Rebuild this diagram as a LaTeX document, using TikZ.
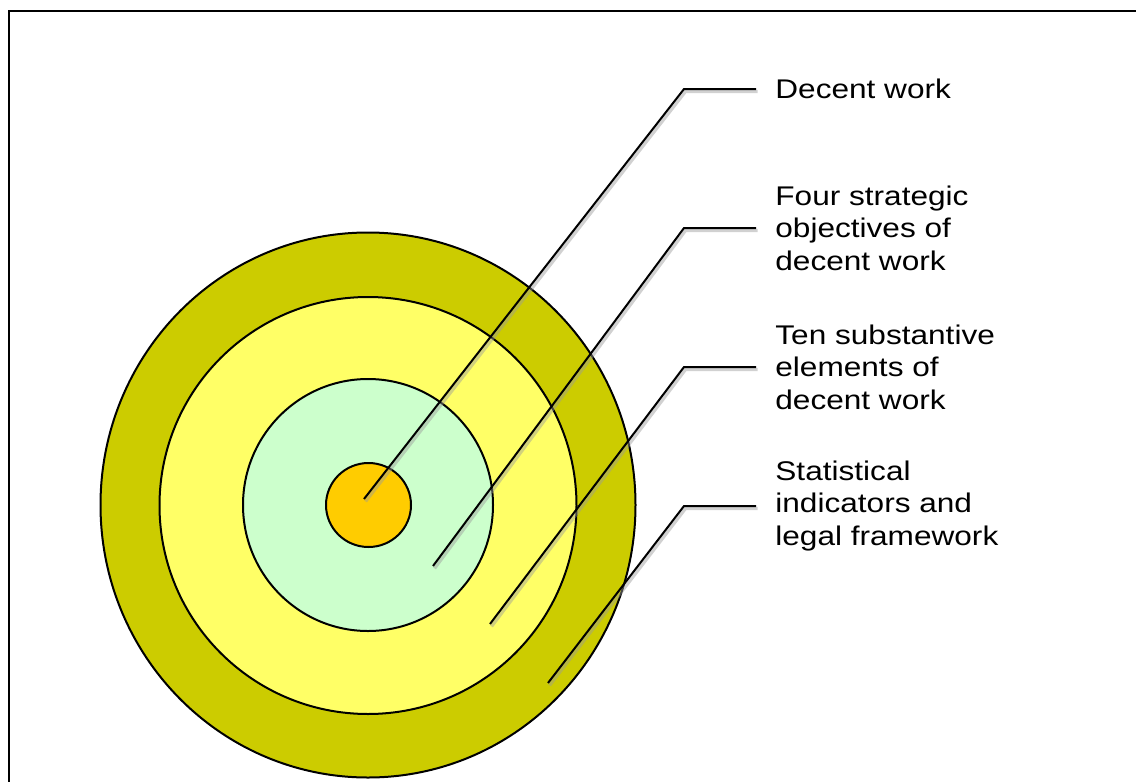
\documentclass[tikz,border=0pt]{standalone}
\usepackage{fontspec}
\newfontfamily\labfont[FakeStretch=1.17]{Liberation Sans}
\usetikzlibrary{shapes.geometric}
\definecolor{ringolive}{HTML}{CCCC00}
\definecolor{ringyellow}{HTML}{FFFF66}
\definecolor{ringgreen}{HTML}{CCFFCC}
\definecolor{ringorange}{HTML}{FFCC00}
\begin{document}
\begin{tikzpicture}[x=0.5pt,y=-0.5pt,
  ring/.style={ellipse, draw=black, line width=1pt, inner sep=0pt},
  lab/.style={font=\labfont\fontsize{13.5pt}{16.3pt}\selectfont, align=left, anchor=west, inner xsep=9.5pt, inner ysep=0pt},
  callout/.style={draw=black, line width=1pt},
  calloutshadow/.style={draw=black!40, line width=1.6pt, opacity=0.45}]
\useasboundingbox (0,0) rectangle (1136,782);
\draw[line width=1pt] (8.5,10.5) rectangle (1150,800);
% rings
\node[ring, fill=ringolive, minimum width=267.5pt, minimum height=272.5pt] (r4) at (368,505) {};
\node[ring, fill=ringyellow, minimum width=208.5pt, minimum height=208.5pt] (r3) at (368,505.5) {};
\node[ring, fill=ringgreen, minimum width=125pt, minimum height=126pt] (r2) at (368,505) {};
\node[ring, fill=ringorange, minimum width=42.5pt, minimum height=42pt] (r1) at (368.5,505) {};
% labels
\node[lab] (l1) at (756,89) {Decent work};
\node[lab] (l2) at (756,228) {Four strategic\\objectives of\\decent work};
\node[lab] (l3) at (756,367) {Ten substantive\\elements of\\decent work};
\node[lab] (l4) at (756,506) {Statistical\\indicators and\\legal framework};
% pointer ends and elbows
\coordinate (p1) at (364,499);
\coordinate (p2) at (433,566);
\coordinate (p3) at (490,624);
\coordinate (p4) at (548,683);
\foreach \i in {1,...,4} {
  \path (l\i.west) ++(-72,0) coordinate (e\i);
  \draw[calloutshadow, transform canvas={xshift=0.8pt,yshift=-1.2pt}] (p\i) -- (e\i) -- (l\i.west);
  \draw[callout] (p\i) -- (e\i) -- (l\i.west);
}
\end{tikzpicture}
\end{document}
